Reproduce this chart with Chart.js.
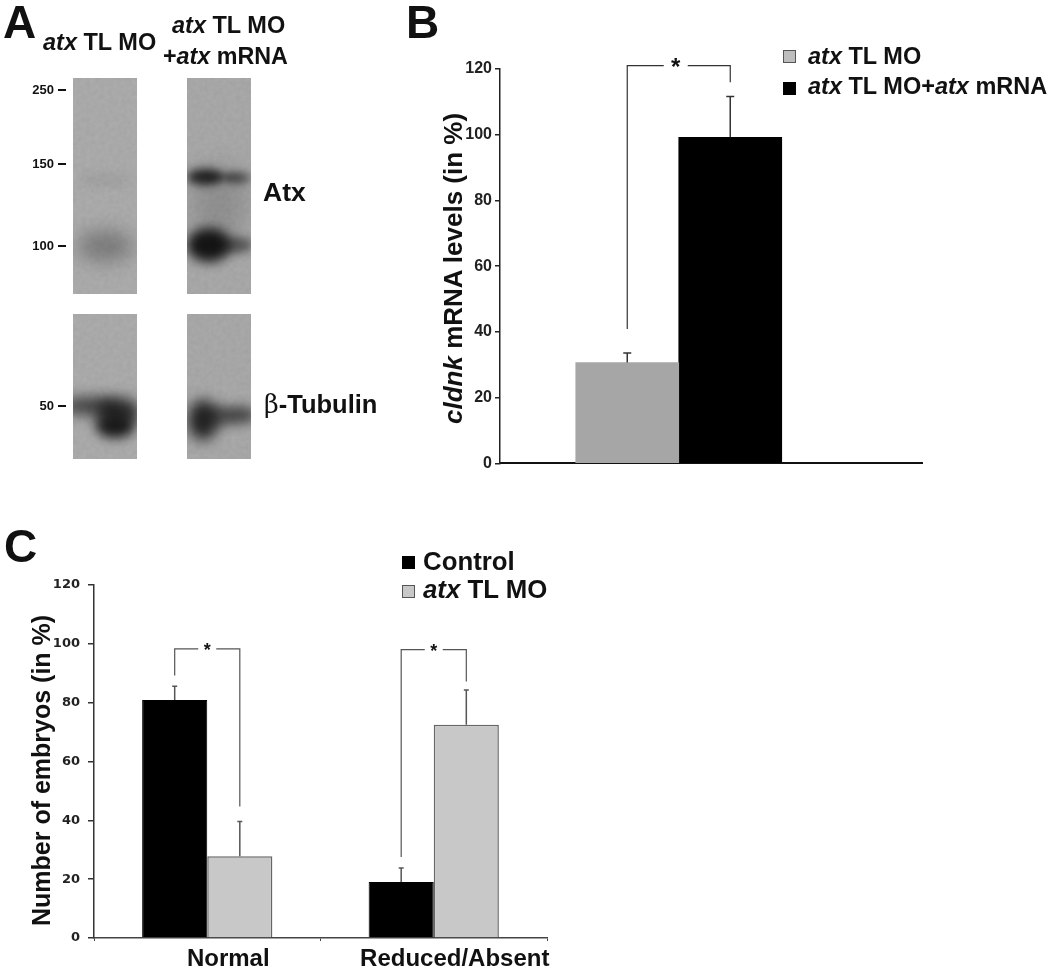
<!DOCTYPE html>
<html>
<head>
  <title>atx TL MO figure</title>
  <script src="https://cdn.jsdelivr.net/npm/chart.js"></script>
  <style>
    html, body { margin: 0; padding: 0; background: #fff; }
    #page { position: relative; width: 1050px; height: 967px; overflow: hidden; font-family: "Liberation Sans", Arial, sans-serif; color: #111; }
    canvas { position: absolute; }
    .lbl { position: absolute; white-space: nowrap; font-weight: bold; line-height: 1; }
    .rot { transform-origin: left top; transform: rotate(-90deg); }
    .sw { position: absolute; width: 13px; height: 13px; box-sizing: border-box; }
    .grain { position: absolute; left: 0; top: 0; opacity: 0.16; mix-blend-mode: multiply; }
  </style>
</head>
<body>
<div id="page">
  <canvas id="blots" width="430" height="480" style="left:0;top:0"></canvas>
  <!-- film grain over the blots only -->
  <svg class="grain" width="430" height="480">
    <filter id="noise" x="0" y="0" width="100%" height="100%">
      <feTurbulence type="fractalNoise" baseFrequency="0.22" numOctaves="2" seed="4"/>
      <feColorMatrix values="0 0 0 0 0.5  0 0 0 0 0.5  0 0 0 0 0.5  1.6 0 0 0 -0.35"/>
    </filter>
    <rect x="73" y="78" width="64" height="216" filter="url(#noise)"/>
    <rect x="187" y="78" width="64" height="216" filter="url(#noise)"/>
    <rect x="73" y="314" width="64" height="145" filter="url(#noise)"/>
    <rect x="187" y="314" width="64" height="145" filter="url(#noise)"/>
  </svg>
  <canvas id="chartB" width="499" height="425" style="left:430px;top:51px;clip-path:inset(0 6px 0 0)"></canvas>
  <canvas id="chartC" width="565" height="417" style="left:0;top:550px"></canvas>

  <!-- panel letters -->
  <div class="lbl" style="left:3px;top:-1px;font-size:46px">A</div>
  <div class="lbl" style="left:406px;top:-1px;font-size:46px">B</div>
  <div class="lbl" style="left:4px;top:523px;font-size:46px">C</div>

  <!-- panel A labels -->
  <div class="lbl" style="left:43px;top:31px;font-size:23.5px"><i>atx</i> TL MO</div>
  <div class="lbl" style="left:172px;top:14px;font-size:23.5px"><i>atx</i> TL MO</div>
  <div class="lbl" style="left:163px;top:45px;font-size:23.3px">+<i>atx</i> mRNA</div>
  <div class="lbl" style="left:263px;top:179px;font-size:26.5px">Atx</div>
  <div class="lbl" style="left:264px;top:392px;font-size:25.5px"><span style="font-family:'DejaVu Serif';font-weight:normal">β</span>-Tubulin</div>

  <!-- panel B legend and axis title -->
  <div class="sw" style="left:783px;top:50px;background:#bdbdbd;border:1px solid #555"></div>
  <div class="sw" style="left:783px;top:82px;background:#000"></div>
  <div class="lbl" style="left:808px;top:45px;font-size:23.5px"><i>atx</i> TL MO</div>
  <div class="lbl" style="left:808px;top:75px;font-size:23.5px"><i>atx</i> TL MO+<i>atx</i> mRNA</div>
  <div class="lbl rot" style="left:440px;top:424px;font-size:26px"><i>cldnk</i> mRNA levels (in %)</div>

  <!-- panel C legend and axis title -->
  <div class="sw" style="left:402px;top:556px;background:#000"></div>
  <div class="sw" style="left:402px;top:585px;background:#c8c8c8;border:1px solid #555"></div>
  <div class="lbl" style="left:423px;top:549px;font-size:25.8px">Control</div>
  <div class="lbl" style="left:423px;top:577px;font-size:25.8px"><i>atx</i> TL MO</div>
  <div class="lbl rot" style="left:29px;top:926px;font-size:25px">Number of embryos (in %)</div>
</div>

<script>
  // Panel B values
  const labelsB = ['', '', 'group', '', '', ''];
  const moB = [null, null, 30.7, null, null, null];
  const rescueB = [null, null, 99.2, null, null, null];
  const moErrB = [null, null, 2.9, null, null, null];
  const rescueErrB = [null, null, 12.4, null, null, null];

  // Panel C values
  const labelsC = ['Normal', 'Reduced/Absent'];
  const controlC = [80.9, 19.0];
  const moC = [27.8, 72.5];
  const controlErrC = [4.7, 4.8];
  const moErrC = [11.8, 11.8];

  // Significance brackets: top of the bracket, and where each leg stops
  const bracketTopB = [121];
  const bracketLeftB = [40.9];
  const bracketRightB = [116];
  const bracketTopC = [98.3, 98.0];
  const bracketLeftC = [89.2, 27.5];
  const bracketRightC = [44.7, 87.2];

  const yTicks = [0, 20, 40, 60, 80, 100, 120];

  // error bars, upper side only
  const errorBars = {
    id: 'errorBars',
    afterDatasetsDraw(chart, args, opts) {
      const ctx = chart.ctx, y = chart.scales.y;
      chart.data.datasets.forEach((ds, i) => {
        chart.getDatasetMeta(i).data.forEach((bar, j) => {
          if (ds.data[j] == null) return;
          const top = y.getPixelForValue(ds.data[j] + ds.errors[j]);
          ctx.save();
          ctx.strokeStyle = opts.color;
          ctx.lineWidth = 1.5;
          ctx.beginPath();
          ctx.moveTo(bar.x, bar.y);
          ctx.lineTo(bar.x, top);
          ctx.moveTo(bar.x - opts.cap, top);
          ctx.lineTo(bar.x + opts.cap, top);
          ctx.stroke();
          ctx.restore();
        });
      });
    }
  };

  // the * brackets above each pair of bars
  const brackets = {
    id: 'brackets',
    afterDraw(chart, args, opts) {
      const ctx = chart.ctx, y = chart.scales.y;
      const a = chart.getDatasetMeta(0).data, b = chart.getDatasetMeta(1).data;
      let n = 0;
      a.forEach((bar, j) => {
        if (chart.data.datasets[0].data[j] == null) return;
        const x1 = bar.x, x2 = b[j].x, mid = (x1 + x2) / 2 + opts.shift;
        const top = y.getPixelForValue(opts.top[n]);
        ctx.save();
        ctx.strokeStyle = opts.color;
        ctx.lineWidth = 1.2;
        ctx.beginPath();
        ctx.moveTo(x1, y.getPixelForValue(opts.left[n]));
        ctx.lineTo(x1, top);
        ctx.lineTo(mid - opts.gap, top);
        ctx.moveTo(mid + opts.gap, top);
        ctx.lineTo(x2, top);
        ctx.lineTo(x2, y.getPixelForValue(opts.right[n]));
        ctx.stroke();
        ctx.fillStyle = '#111';
        ctx.font = opts.font;
        ctx.textAlign = 'center';
        ctx.textBaseline = 'middle';
        ctx.fillText('*', mid, top + opts.starDy);
        ctx.restore();
        n++;
      });
    }
  };

  function yAxis(font, width, color, tickLen, pad) {
    return {
      min: 0, max: 120,
      afterBuildTicks: s => { s.ticks = yTicks.map(v => ({ value: v })); },
      afterFit: s => { s.width = width; },
      border: { color: color, width: 1.5 },
      grid: { drawOnChartArea: false, color: color, tickLength: tickLen, lineWidth: 1.5 },
      ticks: { font: font, color: '#222', padding: pad }
    };
  }

  new Chart(document.getElementById('chartB'), {
    type: 'bar',
    data: {
      labels: labelsB,
      datasets: [
        { label: 'atx TL MO', data: moB, errors: moErrB, backgroundColor: '#a6a6a6', barThickness: 103 },
        { label: 'atx TL MO+atx mRNA', data: rescueB, errors: rescueErrB, backgroundColor: '#000', barThickness: 103 }
      ]
    },
    options: {
      responsive: false,
      animation: false,
      layout: { padding: { top: 18, right: 0 } },
      scales: {
        x: {
          afterFit: s => { s.height = 12; },
          border: { color: '#111', width: 2 },
          grid: { display: false },
          ticks: { display: false }
        },
        y: yAxis({ family: 'Liberation Sans', size: 16, weight: 'bold' }, 70, '#222', 5, 3)
      },
      plugins: {
        legend: { display: false },
        tooltip: { enabled: false },
        errorBars: { color: '#333', cap: 4 },
        brackets: { top: bracketTopB, left: bracketLeftB, right: bracketRightB, color: '#333', gap: 12, shift: -3, starDy: 3,
          font: 'bold 24px "Liberation Sans"' }
      }
    },
    plugins: [errorBars, brackets]
  });

  new Chart(document.getElementById('chartC'), {
    type: 'bar',
    data: {
      labels: labelsC,
      datasets: [
        { label: 'Control', data: controlC, errors: controlErrC, backgroundColor: '#000', borderColor: '#000', borderWidth: 1 },
        { label: 'atx TL MO', data: moC, errors: moErrC, backgroundColor: '#c8c8c8', borderColor: '#666', borderWidth: 1.5 }
      ]
    },
    options: {
      responsive: false,
      animation: false,
      layout: { padding: { top: 35, right: 18 } },
      datasets: { bar: { categoryPercentage: 0.575, barPercentage: 1 } },
      scales: {
        x: {
          afterFit: s => { s.height = 29; },
          border: { color: '#444', width: 1.5 },
          grid: { drawOnChartArea: false, color: '#444', tickLength: 3 },
          ticks: { font: { family: 'Liberation Sans', size: 24, weight: 'bold' }, color: '#111', padding: 4, labelOffset: 21, maxRotation: 0 }
        },
        y: yAxis({ family: 'DejaVu Sans', size: 13, weight: 'bold' }, 94, '#333', 6, 8)
      },
      plugins: {
        legend: { display: false },
        tooltip: { enabled: false },
        errorBars: { color: '#555', cap: 2.5 },
        brackets: { top: bracketTopC, left: bracketLeftC, right: bracketRightC, color: '#555', gap: 9, shift: 0, starDy: 2,
          font: 'bold 18px "Liberation Sans"' }
      }
    },
    plugins: [errorBars, brackets]
  });

  // Panel A: the blot photographs are not data, painted as blurred smudges
  const blot = document.getElementById('blots').getContext('2d');
  function lane(x, y, w, h, base, smudges) {
    blot.save();
    blot.beginPath();
    blot.rect(x, y, w, h);
    blot.clip();
    blot.fillStyle = base;
    blot.fillRect(x, y, w, h);
    smudges.forEach(s => {
      blot.filter = 'blur(' + s[5] + 'px)';
      blot.fillStyle = 'rgba(20,20,20,' + s[4] + ')';
      blot.beginPath();
      blot.ellipse(x + s[0], y + s[1], s[2], s[3], s[6] || 0, 0, Math.PI * 2);
      blot.fill();
    });
    blot.restore();
  }
  lane(73, 78, 64, 216, '#acacac', [
    [32, 168, 28, 16, 0.3, 9],
    [32, 102, 26, 6, 0.07, 5]
  ]);
  lane(187, 78, 64, 216, '#a9a9a9', [
    [32, 125, 28, 38, 0.16, 12],
    [18, 99, 18, 8, 0.9, 5],
    [50, 100, 14, 6, 0.55, 4],
    [34, 99, 20, 3, 0.35, 3],
    [22, 167, 22, 17, 1, 6],
    [50, 167, 16, 8, 0.55, 5]
  ]);
  lane(73, 314, 64, 145, '#acacac', [
    [16, 92, 30, 9, 0.7, 7],
    [45, 98, 22, 14, 0.85, 7],
    [42, 112, 19, 12, 0.95, 6]
  ]);
  lane(187, 314, 64, 145, '#a9a9a9', [
    [16, 106, 15, 20, 0.9, 7],
    [32, 102, 14, 10, 0.55, 6],
    [53, 101, 16, 9, 0.65, 6]
  ]);

  // size marker ticks next to the blots
  blot.fillStyle = '#111';
  blot.textAlign = 'right';
  blot.textBaseline = 'middle';
  blot.font = 'bold 13px "Liberation Sans"';
  [['250', 90], ['150', 164], ['100', 246], ['50', 406]].forEach(m => {
    blot.fillText(m[0], 54, m[1]);
    blot.fillRect(58, m[1] - 1, 8, 2);
  });
</script>
</body>
</html>
